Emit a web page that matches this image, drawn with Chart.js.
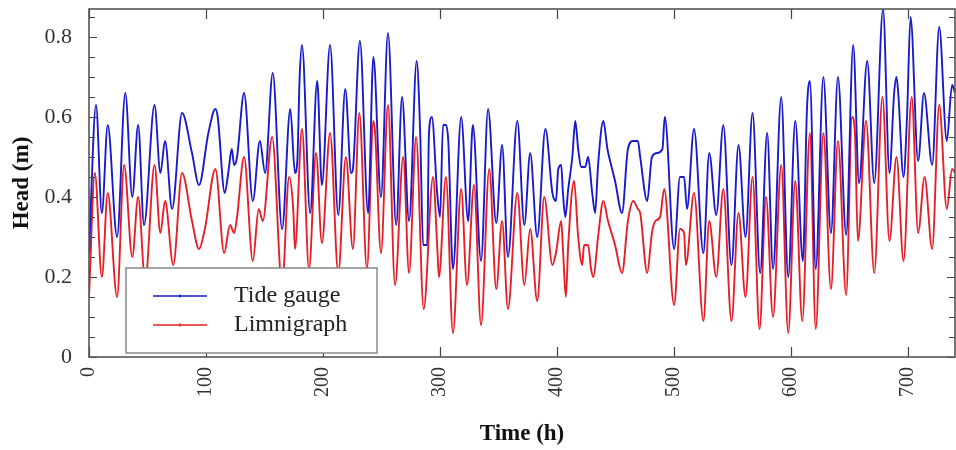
<!DOCTYPE html>
<html>
<head>
<meta charset="utf-8">
<script src="https://cdn.jsdelivr.net/npm/chart.js@4.4.0/dist/chart.umd.min.js"></script>
<style>
    body { margin: 0; background: #fff; }
    #wrap { width: 956px; height: 450px; }
</style>
</head>
<body>
<div id="wrap"><canvas id="headChart"></canvas></div>
<script>
const tideHours = [0, 6, 11, 16, 24, 31, 37, 42, 47, 56, 61, 65, 71, 79.5, 88, 94, 102, 108, 110, 116,
    119, 122, 124, 126.5, 132.5, 140, 146, 150.5, 157, 165, 172, 176, 178, 180, 182, 189, 195, 199, 206, 213,
    219, 224, 225.5, 231.5, 238.5, 243, 249.5, 255.5, 262.5, 267.5, 273.5, 280, 283, 285.5, 289, 290.5, 293, 297.5, 300, 302.5,
    305, 307, 311, 318, 324, 328, 335, 341, 348, 353, 358, 366, 372, 377, 383, 390, 396, 399, 401, 403.5,
    405, 407, 409.5, 413, 415.5, 418, 420.5, 424, 426.5, 430, 432.5, 435, 439.5, 443, 447, 449.5, 455.5, 460.5, 465, 469,
    471, 477, 481, 485.5, 490, 492, 500, 505, 508.5, 511, 517, 525, 530, 536, 542, 549, 555, 561, 567, 573.5,
    579.5, 584.5, 591.5, 597.5, 603.5, 610, 613.5, 616, 621, 627.5, 634, 640, 647, 653, 658, 665, 671, 678.5, 684, 688,
    690, 691.5, 696, 699, 702, 708.5, 713.5, 720.5, 726.5, 733, 737.5, 740];
const tideHead = [0.26, 0.63, 0.36, 0.58, 0.30, 0.66, 0.40, 0.58, 0.33, 0.63, 0.46, 0.54, 0.37, 0.61, 0.51, 0.43, 0.56, 0.62, 0.60, 0.41,
    0.46, 0.52, 0.48, 0.50, 0.66, 0.39, 0.54, 0.46, 0.71, 0.32, 0.62, 0.46, 0.49, 0.70, 0.78, 0.36, 0.69, 0.43, 0.78, 0.355,
    0.67, 0.46, 0.47, 0.79, 0.36, 0.75, 0.40, 0.81, 0.33, 0.65, 0.34, 0.74, 0.56, 0.28, 0.28, 0.56, 0.60, 0.41, 0.35, 0.58,
    0.58, 0.54, 0.22, 0.60, 0.34, 0.58, 0.24, 0.62, 0.335, 0.53, 0.25, 0.59, 0.33, 0.51, 0.30, 0.57, 0.41, 0.39, 0.47, 0.48,
    0.41, 0.35, 0.42, 0.50, 0.59, 0.52, 0.475, 0.475, 0.50, 0.41, 0.36, 0.48, 0.59, 0.52, 0.47, 0.44, 0.36, 0.52, 0.54, 0.54,
    0.50, 0.39, 0.50, 0.51, 0.52, 0.60, 0.27, 0.45, 0.45, 0.37, 0.57, 0.26, 0.51, 0.355, 0.58, 0.23, 0.53, 0.30, 0.61, 0.21,
    0.56, 0.22, 0.65, 0.20, 0.59, 0.24, 0.62, 0.69, 0.22, 0.70, 0.31, 0.70, 0.305, 0.78, 0.435, 0.74, 0.435, 0.87, 0.46, 0.66,
    0.70, 0.66, 0.45, 0.60, 0.85, 0.49, 0.66, 0.48, 0.825, 0.54, 0.68, 0.66];

// limnigraph
const limnHours = [0, 5, 11, 16, 24, 30, 37, 42, 48, 56, 61, 65, 72, 79.5, 88, 94, 99, 108, 115.5, 120.5,
    124, 126.5, 132.5, 140, 145, 148.5, 156.5, 165, 171, 174.5, 176, 182, 188, 194, 199, 206, 213, 219.5, 225.5, 231,
    237.5, 243, 244.5, 249.5, 255.5, 261.5, 268.5, 273.5, 279.5, 286, 294, 297.5, 299, 305, 311, 318, 323, 329, 335, 342,
    348, 353, 358, 366, 372, 377, 383, 389, 396, 399, 403.5, 405, 407.5, 409.5, 414.5, 418, 421.5, 423, 426.5, 429,
    431, 435, 439.5, 443.5, 449.5, 455.5, 460.5, 465, 469, 471, 477, 481, 484, 488, 491.5, 500, 505, 508.5, 510, 517,
    525, 530, 536, 542, 549, 555, 561, 567, 573, 578.5, 584.5, 591.5, 597.5, 603.5, 609.5, 616, 621, 627.5, 634, 640,
    647, 652, 654.5, 657, 664, 671, 678, 684, 690, 696, 703, 708.5, 714, 720.5, 726.5, 733, 737.5, 740];
const limnHead = [0.15, 0.46, 0.20, 0.41, 0.15, 0.48, 0.25, 0.40, 0.19, 0.48, 0.31, 0.39, 0.23, 0.46, 0.34, 0.27, 0.32, 0.47, 0.26, 0.33,
    0.31, 0.35, 0.50, 0.24, 0.37, 0.34, 0.55, 0.18, 0.45, 0.37, 0.27, 0.57, 0.22, 0.51, 0.285, 0.56, 0.21, 0.50, 0.27, 0.61,
    0.22, 0.59, 0.56, 0.26, 0.63, 0.18, 0.50, 0.21, 0.55, 0.12, 0.45, 0.28, 0.20, 0.45, 0.06, 0.42, 0.18, 0.43, 0.08, 0.47,
    0.17, 0.34, 0.12, 0.41, 0.18, 0.32, 0.14, 0.40, 0.23, 0.26, 0.34, 0.27, 0.15, 0.28, 0.44, 0.30, 0.23, 0.28, 0.28, 0.22,
    0.20, 0.30, 0.39, 0.34, 0.28, 0.21, 0.34, 0.39, 0.37, 0.36, 0.21, 0.31, 0.34, 0.35, 0.42, 0.13, 0.32, 0.31, 0.23, 0.41,
    0.09, 0.34, 0.20, 0.42, 0.09, 0.36, 0.15, 0.45, 0.07, 0.40, 0.10, 0.48, 0.06, 0.44, 0.09, 0.56, 0.07, 0.56, 0.17, 0.54,
    0.155, 0.60, 0.56, 0.29, 0.59, 0.21, 0.65, 0.29, 0.50, 0.24, 0.65, 0.31, 0.45, 0.27, 0.63, 0.37, 0.47, 0.46];

const xTicks = [0, 100, 200, 300, 400, 500, 600, 700];
const yTicks = [0, 0.2, 0.4, 0.6, 0.8];

function toPoints(xs, ys) {
    return xs.map(function(x, i) { return { x: x, y: ys[i] }; });
}

// box round the plot + inward tick marks
const frameTicks = {
    id: 'frameTicks',
    afterDraw(chart) {
        const ctx = chart.ctx;
        const a = chart.chartArea;
        const xs = chart.scales.x, ys = chart.scales.y;
        ctx.save();
        ctx.strokeStyle = '#444';
        ctx.lineWidth = 1.2;
        ctx.beginPath();
        xTicks.forEach(function(v) {
            const px = Math.round(xs.getPixelForValue(v)) + 0.5;
            ctx.moveTo(px, a.bottom); ctx.lineTo(px, a.bottom - 10);
            ctx.moveTo(px, a.top); ctx.lineTo(px, a.top + 10);
        });
        for (let k = 0; k <= 17; k++) {
            const v = k * 0.05;
            const py = Math.round(ys.getPixelForValue(v)) + 0.5;
            const len = (k % 4 === 0) ? 8 : 6;
            ctx.moveTo(a.left, py); ctx.lineTo(a.left + len, py);
            ctx.moveTo(a.right, py); ctx.lineTo(a.right - len, py);
        }
        ctx.stroke();
        ctx.strokeStyle = '#555';
        ctx.lineWidth = 1.6;
        ctx.strokeRect(a.left, a.top, a.right - a.left, a.bottom - a.top);
        ctx.restore();
    }
};

// legend box inside lower left of the plot
const boxLegend = {
    id: 'boxLegend',
    afterDraw(chart) {
        const ctx = chart.ctx;
        const a = chart.chartArea;
        const left = a.left + 37, top = a.bottom - 89, w = 251, h = 85;
        ctx.save();
        ctx.fillStyle = '#fff';
        ctx.fillRect(left, top, w, h);
        ctx.strokeStyle = '#888';
        ctx.lineWidth = 1.5;
        ctx.strokeRect(left, top, w, h);
        ctx.font = '24px "Liberation Serif"';
        ctx.textBaseline = 'middle';
        chart.data.datasets.forEach(function(ds, i) {
            const y = top + 28 + i * 29;
            ctx.strokeStyle = ds.borderColor;
            ctx.lineWidth = 1.6;
            ctx.beginPath();
            ctx.moveTo(left + 27, y); ctx.lineTo(left + 81, y);
            ctx.moveTo(left + 54, y - 1.5); ctx.lineTo(left + 54, y + 1.5);
            ctx.stroke();
            ctx.fillStyle = '#222';
            ctx.fillText(ds.label, left + 108, y);
        });
        ctx.restore();
    }
};

Chart.defaults.font.family = '"Liberation Serif"';
Chart.defaults.color = '#333';

new Chart(document.getElementById('headChart'), {
    type: 'line',
    data: {
        datasets: [{
            label: 'Tide gauge',
            data: toPoints(tideHours, tideHead),
            borderColor: 'rgb(25, 25, 205)',
            borderWidth: 1.9,
            pointRadius: 0,
            fill: false,
            cubicInterpolationMode: 'monotone'
        }, {
            label: 'Limnigraph',
            data: toPoints(limnHours, limnHead),
            borderColor: 'rgb(232, 30, 38)',
            borderWidth: 1.9,
            pointRadius: 0,
            fill: false,
            cubicInterpolationMode: 'monotone'
        }]
    },
    options: {
        responsive: true,
        maintainAspectRatio: false,
        animation: false,
        layout: { padding: { top: 9, right: 1, left: 0, bottom: 0 } },
        plugins: {
            legend: { display: false },
            tooltip: { enabled: false }
        },
        scales: {
            x: {
                type: 'linear',
                min: 0,
                max: 740,
                grid: { display: false },
                border: { display: false },
                afterFit: function(scale) {
                    scale.height = 93;
                    scale.paddingRight = 0;
                },
                afterBuildTicks: function(scale) {
                    scale.ticks = xTicks.map(function(v) { return { value: v }; });
                },
                ticks: {
                    autoSkip: false,
                    minRotation: 90,
                    maxRotation: 90,
                    padding: 2,
                    color: '#333',
                    font: { size: 20 }
                },
                title: {
                    display: true,
                    text: 'Time (h)',
                    color: '#111',
                    font: { size: 23, weight: 'bold' },
                    padding: { top: 0, bottom: 2 }
                }
            },
            y: {
                min: 0,
                max: 0.87,
                grid: { display: false },
                border: { display: false },
                afterFit: function(scale) {
                    scale.width = 89;
                    scale.paddingTop = 0;
                    scale.paddingBottom = 0;
                },
                afterBuildTicks: function(scale) {
                    scale.ticks = yTicks.map(function(v) { return { value: v }; });
                },
                ticks: {
                    padding: 9,
                    color: '#333',
                    font: { size: 22 },
                    callback: function(v) { return v === 0 ? '0' : v.toFixed(1); }
                },
                title: {
                    display: true,
                    text: 'Head (m)',
                    color: '#111',
                    font: { size: 23, weight: 'bold' },
                    padding: { top: 8, bottom: 0 }
                }
            }
        }
    },
    plugins: [frameTicks, boxLegend]
});
</script>
</body>
</html>
